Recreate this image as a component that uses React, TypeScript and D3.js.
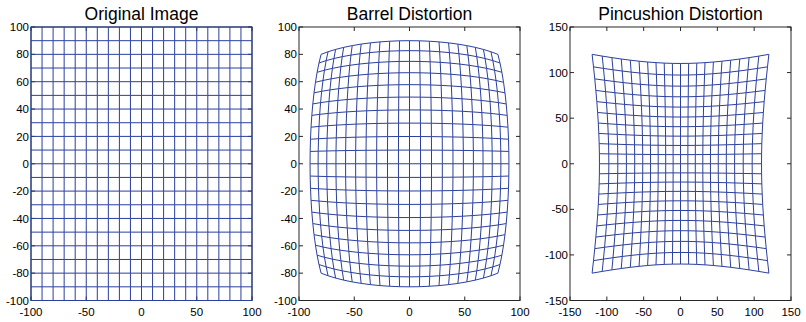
import React from 'react';
import * as d3 from 'd3';

// grid sample positions (meshgrid -100:10:100)
const gridSteps = [-100, -90, -80, -70, -60, -50, -40, -30, -20, -10, 0, 10, 20, 30, 40, 50, 60, 70, 80, 90, 100];

// radial distortion coefficient: r' = r * (1 + k * r^2)
const barrelK = -1e-5;
const pincushionK = 1e-5;

const titles = ['Original Image', 'Barrel Distortion', 'Pincushion Distortion'];
const kValues = [0, barrelK, pincushionK];
const limits = [[-100, 100], [-100, 100], [-150, 150]];
const xTickSets = [
  [-100, -50, 0, 50, 100],
  [-100, -50, 0, 50, 100],
  [-150, -100, -50, 0, 50, 100, 150],
];
const yTickSets = [
  [-100, -80, -60, -40, -20, 0, 20, 40, 60, 80, 100],
  [-100, -80, -60, -40, -20, 0, 20, 40, 60, 80, 100],
  [-150, -100, -50, 0, 50, 100, 150],
];

const panelLeft = [31, 299, 570];
const panelWidth = 221;
const top = 27;
const bottom = 300.5;
const lineColor = '#2b3f9e';
const font = '"Liberation Sans", Arial, sans-serif';

const distort = (x: number, y: number, k: number): [number, number] => {
  const f = 1 + k * (x * x + y * y);
  return [x * f, y * f];
};

const Panel = ({ i }: { i: number }) => {
  const x0 = panelLeft[i];
  const [lo, hi] = limits[i];
  const xScale = d3.scaleLinear().domain([lo, hi]).range([x0, x0 + panelWidth]);
  const yScale = d3.scaleLinear().domain([lo, hi]).range([bottom, top]);
  const k = kValues[i];
  const line = d3.line<[number, number]>().x(d => xScale(d[0])).y(d => yScale(d[1]));

  const rows = gridSteps.map(gy => gridSteps.map(gx => distort(gx, gy, k)));
  const cols = gridSteps.map(gx => gridSteps.map(gy => distort(gx, gy, k)));
  const tick = 4;

  return (
    <g>
      <text x={x0 + panelWidth / 2} y={20} textAnchor="middle" fontFamily={font} fontSize={17.5} fill="#000">
        {titles[i]}
      </text>
      <rect x={x0} y={top} width={panelWidth} height={bottom - top} fill="#fff" stroke="#262626" strokeWidth={1} />
      {xTickSets[i].map(t => (
        <g key={'x' + t}>
          <line x1={xScale(t)} x2={xScale(t)} y1={bottom} y2={bottom - tick} stroke="#262626" />
          <line x1={xScale(t)} x2={xScale(t)} y1={top} y2={top + tick} stroke="#262626" />
          <text x={xScale(t)} y={316} textAnchor="middle" fontFamily={font} fontSize={11.5} fill="#000">{t}</text>
        </g>
      ))}
      {yTickSets[i].map(t => (
        <g key={'y' + t}>
          <line x1={x0} x2={x0 + tick} y1={yScale(t)} y2={yScale(t)} stroke="#262626" />
          <line x1={x0 + panelWidth} x2={x0 + panelWidth - tick} y1={yScale(t)} y2={yScale(t)} stroke="#262626" />
          <text x={x0 - 2} y={yScale(t)} dy="0.36em" textAnchor="end" fontFamily={font} fontSize={11.5} fill="#000">{t}</text>
        </g>
      ))}
      <g fill="none" stroke={lineColor} strokeWidth={1}>
        {rows.map((r, j) => <path key={'r' + j} d={line(r) || ''} />)}
        {cols.map((c, j) => <path key={'c' + j} d={line(c) || ''} />)}
      </g>
    </g>
  );
};

export default function App() {
  return (
    <svg width={806} height={322} style={{ position: 'absolute', left: 0, top: 0, background: '#fff' }}>
      <rect width={806} height={322} fill="#fff" />
      {[0, 1, 2].map(i => <Panel key={i} i={i} />)}
    </svg>
  );
}
